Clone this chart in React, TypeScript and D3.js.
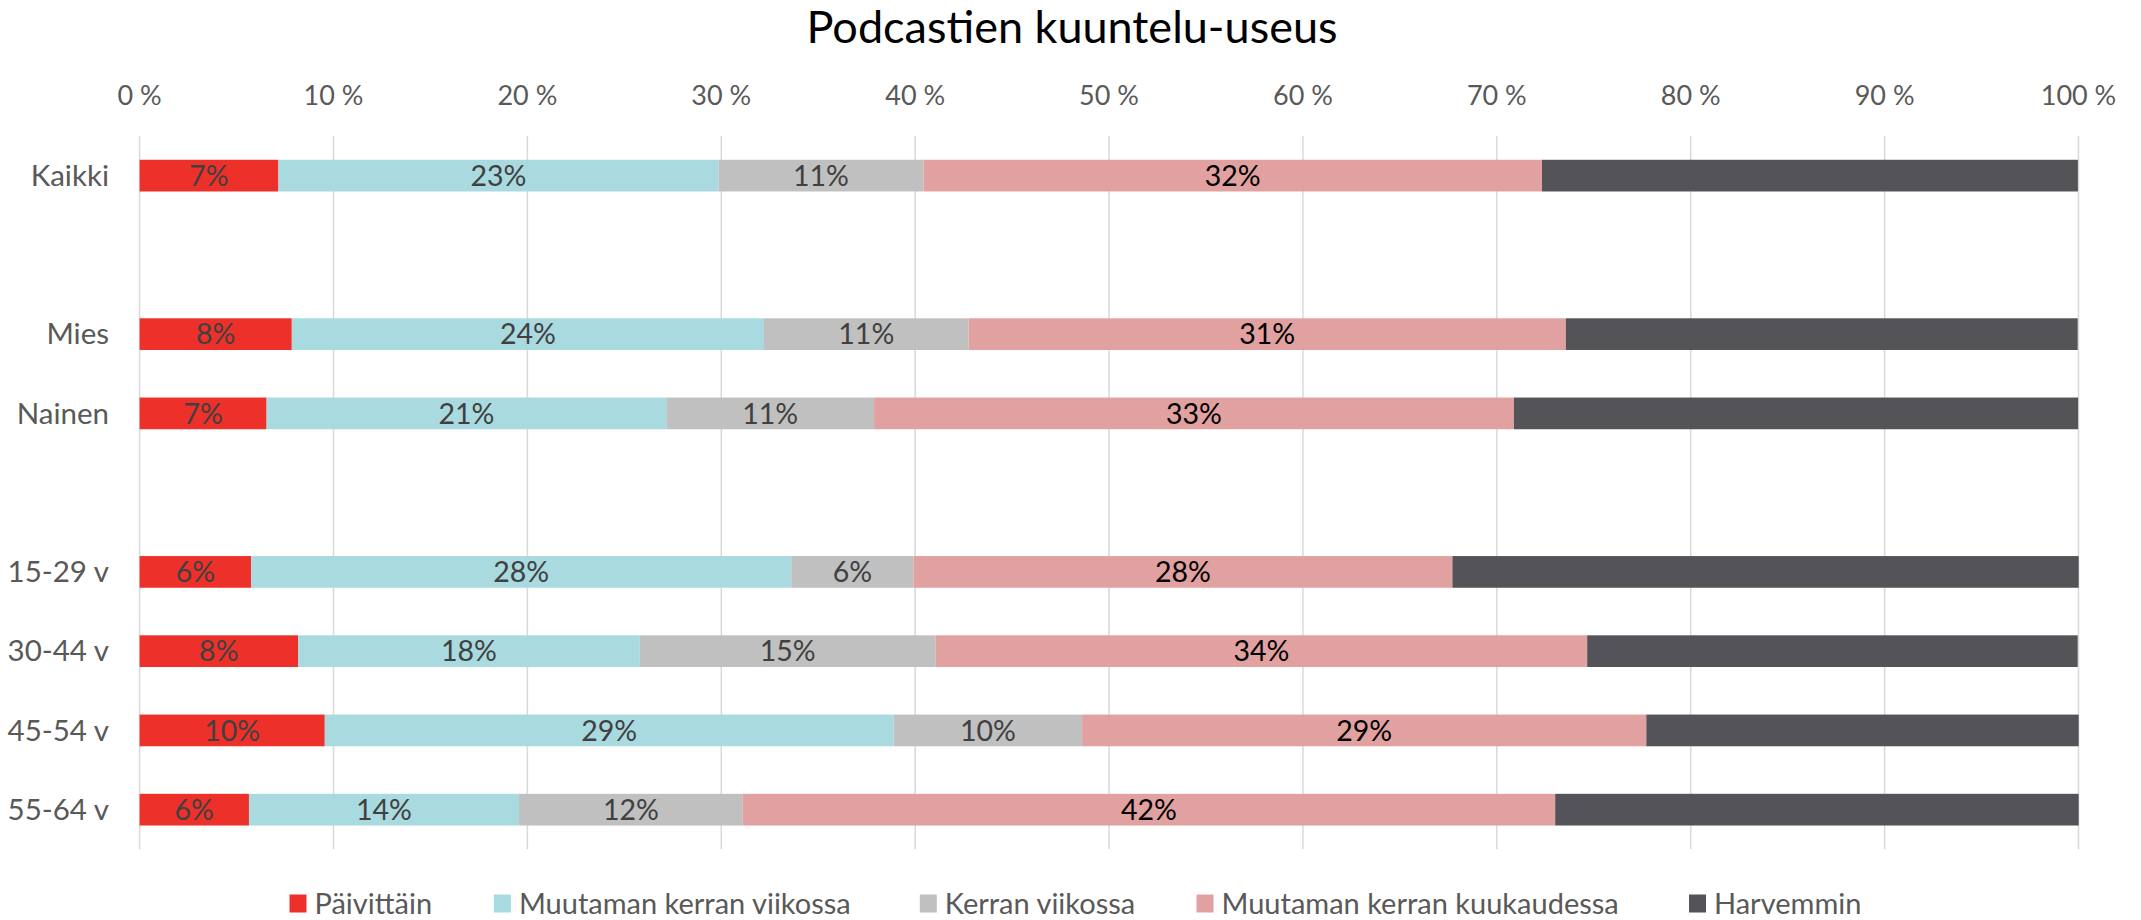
import React from "react";
import * as d3 from "d3";

const categories = ["Kaikki", "", "Mies", "Nainen", "", "15-29 v", "30-44 v", "45-54 v", "55-64 v"];
const seriesNames = ["Päivittäin", "Muutaman kerran viikossa", "Kerran viikossa", "Muutaman kerran kuukaudessa", "Harvemmin"];
const paivittain = [7.16, null, 7.85, 6.55, null, 5.75, 8.17, 9.55, 5.64];
const muutamanViikossa = [22.7, null, 24.35, 20.62, null, 27.86, 17.63, 29.34, 13.93];
const kerranViikossa = [10.57, null, 10.56, 10.71, null, 6.3, 15.26, 9.72, 11.54];
const muutamanKuukaudessa = [31.9, null, 30.8, 33.0, null, 27.8, 33.6, 29.1, 41.9];
const harvemmin = [27.64, null, 26.4, 29.1, null, 32.3, 25.3, 22.3, 27.0];
const xTicks = [0, 10, 20, 30, 40, 50, 60, 70, 80, 90, 100];
const colors = ["#EE302B", "#A9DAE0", "#C0C0C0", "#E2A1A1", "#545358"];
const labelColors = ["#404040", "#404040", "#404040", "#000000", null];
const title = "Podcastien kuuntelu-useus";

const W = 2141, H = 920;
const FONT = "Lato, 'Open Sans', sans-serif";

export default function App() {
  const series = [paivittain, muutamanViikossa, kerranViikossa, muutamanKuukaudessa, harvemmin];
  const x = d3.scaleLinear().domain([0, 100]).range([139.6, 2078.5]);
  const keys = categories.map((_, i) => String(i));
  const y = d3.scaleBand<string>().domain(keys).range([136, 849.3]).paddingInner(0.6).paddingOuter(0.3);

  const rows = categories.map((c, i) => {
    const vals = series.map((s) => s[i]);
    if (vals[0] == null) return null;
    let acc = 0;
    const segs = vals.map((v, k) => {
      const s = { k, x0: acc, x1: acc + (v as number), v: v as number };
      acc += v as number;
      return s;
    });
    return { i, c, segs };
  });

  const legendX = [289.5, 493.9, 919.8, 1196.5, 1689];

  return (
    <svg width={W} height={H} style={{ position: "absolute", left: 0, top: 0, background: "#fff" }} fontFamily={FONT}>
      <rect width={W} height={H} fill="#fff" />
      <text x={1072} y={43} textAnchor="middle" fontSize={45} fill="#000">{title}</text>
      {xTicks.map((t) => (
        <g key={t}>
          <line x1={x(t)} x2={x(t)} y1={136} y2={849.3} stroke="#D9D9D9" strokeWidth={1.5} />
          <text x={x(t)} y={105} textAnchor="middle" fontSize={27} fill="#595959">{`${t} %`}</text>
        </g>
      ))}
      {categories.map((c, i) =>
        c ? (
          <text key={i} x={109} y={(y(String(i)) as number) + y.bandwidth() / 2} dy="0.35em" textAnchor="end" fontSize={29.5} fill="#595959">{c}</text>
        ) : null
      )}
      {rows.map((r) =>
        r ? (
          <g key={r.i}>
            {r.segs.map((s) => (
              <rect key={s.k} x={x(s.x0)} y={y(String(r.i))} width={x(s.x1) - x(s.x0)} height={y.bandwidth()} fill={colors[s.k]} />
            ))}
            {r.segs.map((s) =>
              labelColors[s.k] ? (
                <text key={"l" + s.k} x={(x(s.x0) + x(s.x1)) / 2} y={(y(String(r.i)) as number) + y.bandwidth() / 2} dy="0.36em" textAnchor="middle" fontSize={28.5} fill={labelColors[s.k] as string}>
                  {`${Math.round(s.v)}%`}
                </text>
              ) : null
            )}
          </g>
        ) : null
      )}
      {seriesNames.map((n, k) => (
        <g key={n}>
          <rect x={legendX[k]} y={894.5} width={17} height={18} fill={colors[k]} />
          <text x={legendX[k] + 25} y={913.5} fontSize={29} fill="#595959">{n}</text>
        </g>
      ))}
    </svg>
  );
}
